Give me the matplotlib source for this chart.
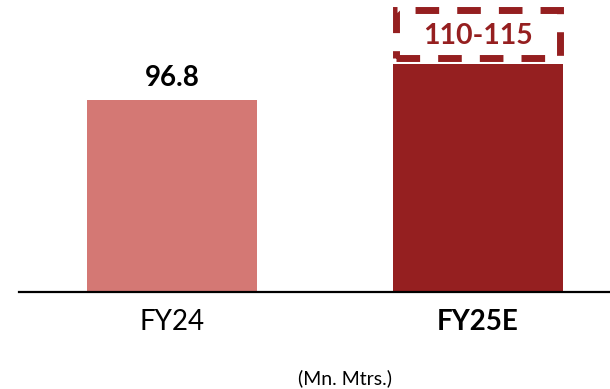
import matplotlib
matplotlib.use("Agg")
import matplotlib.pyplot as plt
from matplotlib.patches import Rectangle

# Data
categories = ["FY24", "FY25E"]
values = [96.8, 115]
value_labels = ["96.8", "110-115"]
unit_label = "(Mn. Mtrs.)"

bar_colors = ["#D47874", "#951F20"]
label_colors = ["#000000", "#951F20"]

plt.rcParams["font.family"] = ["Lato", "DejaVu Sans"]

fig = plt.figure(figsize=(6.10, 3.89), dpi=100)
ax = fig.add_axes([19 / 610, 97 / 389, 591 / 610, 292 / 389])

bar_w = 0.556
x = list(range(len(categories)))
ax.bar(x, values, width=bar_w, color=bar_colors, zorder=2)

ax.set_xlim(-0.5, 1.431)
ax.set_ylim(0, 147.2)

# first bar: plain value label above the bar
ax.text(x[0], values[0] + 11, value_labels[0], ha="center", va="center",
        fontsize=20, fontweight="bold", color=label_colors[0])

# second bar: dashed range box resting on the bar
dx = 0.0114
box_bottom = values[1] + 2.8
box_top = 142.0
ax.add_patch(Rectangle((x[1] - bar_w / 2 + dx, box_bottom),
                       bar_w - 2 * dx, box_top - box_bottom,
                       fill=False, edgecolor=bar_colors[1], linewidth=5,
                       linestyle=(0, (3.4, 2.6)), clip_on=False, zorder=3))
ax.text(x[1], (box_bottom + box_top) / 2 - 0.8, value_labels[1],
        ha="center", va="center", fontsize=20.5, fontweight="bold",
        color=label_colors[1])

# axis styling
for side in ["top", "right", "left"]:
    ax.spines[side].set_visible(False)
ax.spines["bottom"].set_linewidth(1.6)
ax.spines["bottom"].set_color("#000000")
ax.set_yticks([])
ax.set_xticks(x)
ax.set_xticklabels(categories, fontsize=20)
ax.tick_params(axis="x", length=0, pad=12)
for lbl, w in zip(ax.get_xticklabels(), ["normal", "bold"]):
    lbl.set_fontweight(w)

fig.text(345 / 610, 1 - 378 / 389, unit_label, ha="center", va="center",
         fontsize=14, color="#000000")

fig.savefig("out.png", dpi=100)
